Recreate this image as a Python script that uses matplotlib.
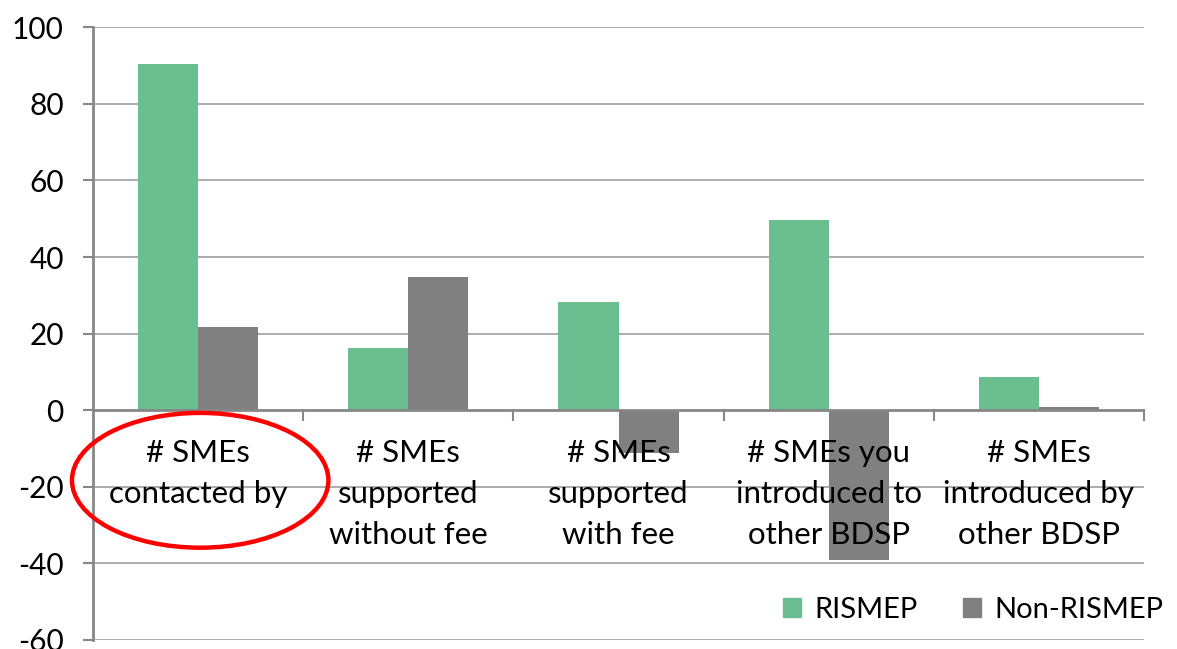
import numpy as np
import matplotlib
matplotlib.use('Agg')
import matplotlib.pyplot as plt
from matplotlib.patches import Ellipse, Patch

# data
categories = ['# SMEs\ncontacted by', '# SMEs\nsupported\nwithout fee', '# SMEs\nsupported\nwith fee',
              '# SMEs you\nintroduced to\nother BDSP', '# SMEs\nintroduced by\nother BDSP']
rismep = [90.3, 16.2, 28.2, 49.6, 8.6]
non_rismep = [21.7, 34.7, -11.2, -39.2, 0.9]
series_names = ['RISMEP', 'Non-RISMEP']
yticks = [-60, -40, -20, 0, 20, 40, 60, 80, 100]

green = '#6BBE8F'
grey = '#808080'
gridc = '#A6A6A6'
axisc = '#878787'

plt.rcParams['font.family'] = ['Lato', 'DejaVu Sans']

F = plt.figure(figsize=(11.77, 6.49), dpi=100)
ax = F.add_axes([0.079, 0.0139, 0.972 - 0.079, 0.958 - 0.0139])

x = np.arange(len(categories))
w = 0.286
ax.bar(x - w/2, rismep, w, color=green, zorder=2)
ax.bar(x + w/2, non_rismep, w, color=grey, zorder=2)

ax.set_xlim(-0.5, len(categories) - 0.5)
ax.set_ylim(-60, 100)
ax.set_yticks(yticks)
ax.set_yticklabels([str(v) for v in yticks], fontsize=21.5)
ax.tick_params(axis='y', length=7, width=1.5, color=axisc, pad=14)
for v in yticks:
    if v != 0:
        ax.axhline(v, color=gridc, lw=1.3, zorder=1)
ax.axhline(0, color=axisc, lw=2, zorder=3)

# category separators below the zero line
for b in np.arange(0.5, len(categories) - 0.5 + 1e-9, 1.0):
    ax.plot([b, b], [0, -2.6], color=axisc, lw=1.5, zorder=3, clip_on=False)

ax.set_xticks([])
for i, lab in enumerate(categories):
    ax.text(i, -7.6, lab, ha='center', va='top', fontsize=22.5, linespacing=1.56, zorder=5)

for s in ['top', 'right', 'bottom']:
    ax.spines[s].set_visible(False)
ax.spines['left'].set_color(axisc)
ax.spines['left'].set_linewidth(2)

# red ellipse around the first label
ax.add_patch(Ellipse((0.01, -18.3), 1.22, 35.2, fill=False, edgecolor='#FF0000', lw=3.2,
                     zorder=6, clip_on=False))

handles = [Patch(color=green), Patch(color=grey)]
ax.legend(handles, series_names, loc='lower right', bbox_to_anchor=(1.043, -0.015), ncol=2,
          frameon=False, fontsize=21, handlelength=0.62, handleheight=0.62,
          handletextpad=0.45, columnspacing=1.55)

F.savefig('out.png', dpi=100)
